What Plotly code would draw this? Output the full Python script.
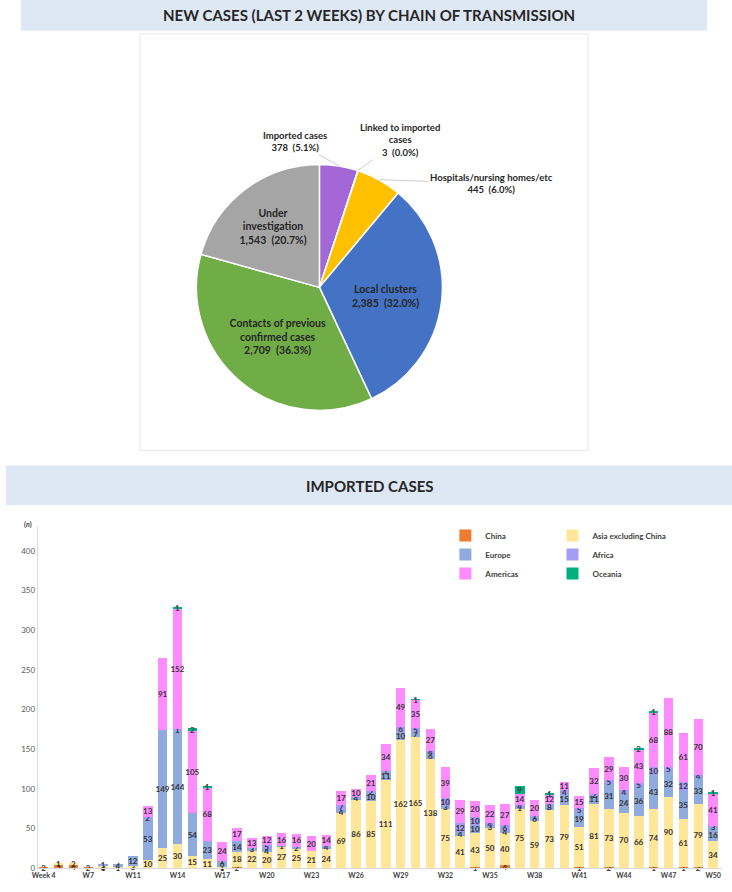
import math
import plotly.graph_objects as go

W, H = 732, 892
FONT = "Lato"
DARK = "#262626"
BAND = "#DEE8F4"

# ---- pie: new cases by chain of transmission ----
chain_labels = ["Imported cases", "Linked to imported cases", "Hospitals/nursing homes/etc",
                "Local clusters", "Contacts of previous confirmed cases", "Under investigation"]
chain_text_labels = ["Imported cases", "Linked to imported<br>cases", "Hospitals/nursing homes/etc",
                     "Local clusters", "Contacts of previous<br>confirmed cases", "Under<br>investigation"]
chain_values = [378, 3, 445, 2385, 2709, 1543]
chain_colors = ["#A367D6", "#7F7F7F", "#FFC000", "#4472C4", "#70AD47", "#A5A5A5"]

# ---- stacked bars: imported cases by region ----
weeks = ["Week 4", "W5", "W6", "W7", "W8", "W9", "W11", "W12", "W13", "W14", "W15", "W16",
         "W17", "W18", "W19", "W20", "W21", "W22", "W23", "W24", "W25", "W26", "W27", "W28",
         "W29", "W30", "W31", "W32", "W33", "W34", "W35", "W36", "W37", "W38", "W39", "W40",
         "W41", "W42", "W43", "W44", "W45", "W46", "W47", "W48", "W49", "W50"]
week_ticks = ["Week 4", "W7", "W11", "W14", "W17", "W20", "W23", "W26", "W29", "W32",
              "W35", "W38", "W41", "W44", "W47", "W50"]

china = [2, 5, 4, 2, 1, 0, 0, 0, 0, 0, 0, 0, 1, 2, 0, 0, 0, 0, 0, 0, 0, 0, 0, 0,
         0, 0, 0, 0, 0, 1, 0, 4, 0, 0, 0, 0, 1, 0, 2, 0, 0, 1, 0, 1, 2, 0]
asia = [0, 1, 2, 0, 2, 1, 3, 10, 25, 30, 15, 11, 1, 18, 22, 20, 27, 25, 21, 24, 69, 86, 85, 111,
        162, 165, 138, 75, 41, 43, 50, 40, 75, 59, 73, 79, 51, 81, 73, 70, 66, 74, 90, 61, 79, 34]
europe = [0, 0, 0, 0, 1, 4, 12, 53, 149, 144, 54, 23, 6, 14, 3, 4, 1, 2, 0, 4, 4, 4, 10, 11,
          10, 7, 6, 3, 4, 10, 3, 4, 1, 6, 8, 15, 19, 11, 31, 24, 36, 43, 32, 35, 33, 16]
africa = [0, 0, 0, 0, 0, 0, 0, 2, 0, 1, 0, 0, 1, 0, 0, 5, 0, 0, 0, 0, 7, 0, 2, 1,
          6, 5, 4, 10, 12, 10, 4, 6, 4, 1, 0, 4, 5, 2, 5, 4, 5, 10, 5, 12, 4, 3]
americas = [0, 0, 0, 0, 0, 0, 0, 13, 91, 152, 105, 68, 24, 17, 13, 12, 16, 16, 20, 14, 17, 10, 21, 34,
            49, 35, 27, 39, 29, 20, 22, 27, 14, 20, 12, 11, 15, 32, 29, 30, 43, 68, 88, 61, 70, 41]
oceania = [0, 0, 0, 0, 0, 0, 0, 0, 0, 1, 2, 1, 0, 0, 0, 0, 0, 0, 0, 0, 0, 0, 0, 0,
           0, 1, 0, 0, 0, 0, 0, 0, 9, 0, 1, 0, 0, 0, 0, 0, 2, 1, 0, 0, 0, 1]

regions = ["China", "Asia excluding China", "Europe", "Africa", "Americas", "Oceania"]
region_values = [china, asia, europe, africa, americas, oceania]
region_colors = ["#ED7D31", "#FFE699", "#8FAADC", "#A49CF5", "#FF8CFF", "#00B07F"]
# legend is laid out in two columns like the original
region_legend = ["legend", "legend2", "legend", "legend2", "legend", "legend2"]

fig = go.Figure()

# pie geometry (pixels from top-left), turned into a domain
pie_cx, pie_cy, pie_r = 316, 289, 124
pie_x = [(pie_cx - pie_r) / W, (pie_cx + pie_r) / W]
pie_y = [1 - (pie_cy + pie_r) / H, 1 - (pie_cy - pie_r) / H]

total = sum(chain_values)
inside = [i for i, v in enumerate(chain_values) if v / total > 0.1]
pie_text = []
for i, (lab, v) in enumerate(zip(chain_text_labels, chain_values)):
    s = f"{lab}<br>{v:,}\u00a0\u00a0({v / total * 100:.1f}%)"
    pie_text.append(s if i in inside else "")

fig.add_trace(go.Pie(
    labels=chain_labels, values=chain_values, text=pie_text, textinfo="text",
    textposition="inside", insidetextorientation="horizontal", sort=False,
    direction="clockwise", rotation=0,
    marker=dict(colors=chain_colors, line=dict(color="white", width=1.5)),
    textfont=dict(family=FONT, size=10.5, color=DARK, weight="bold"),
    domain=dict(x=pie_x, y=pie_y), showlegend=False, hoverinfo="label+value+percent",
))

# outside labels for the thin slices, arrow tip at mid angle of each slice
label_offsets = {0: (-44, -24), 1: (42, -30), 2: (112, 4)}
cum = 0
for i, v in enumerate(chain_values):
    if i in label_offsets:
        ang = 2 * math.pi * (cum + v / 2) / total
        tx = pie_cx + pie_r * math.sin(ang)
        ty = pie_cy - pie_r * math.cos(ang)
        ax, ay = label_offsets[i]
        fig.add_annotation(
            x=tx / W, y=1 - ty / H, xref="paper", yref="paper",
            ax=ax, ay=ay, showarrow=True, arrowhead=0, arrowwidth=0.8, arrowcolor="#BFBFBF",
            text=f"{chain_text_labels[i]}<br>{v:,}\u00a0\u00a0({v / total * 100:.1f}%)",
            font=dict(family=FONT, size=9.5, color=DARK, weight="bold"), align="center",
        )
    cum += v

for name, vals, col, lg in zip(regions, region_values, region_colors, region_legend):
    fig.add_trace(go.Bar(
        x=weeks, y=vals, name=name, legend=lg, marker=dict(color=col, line=dict(width=0)),
        text=[str(v) if v > 0 else "" for v in vals], textposition="inside",
        insidetextanchor="middle", textangle=0, constraintext="none",
        textfont=dict(family=FONT, size=8, color="#333333", weight="bold"),
        cliponaxis=False,
    ))

shapes = [
    dict(type="rect", xref="paper", yref="paper", x0=15 / W, x1=707 / W, y0=1 - 31 / H, y1=1,
         fillcolor=BAND, line=dict(width=0), layer="below"),
    dict(type="rect", xref="paper", yref="paper", x0=135 / W, x1=587 / W,
         y0=1 - 453 / H, y1=1 - 34 / H, fillcolor="white", line=dict(color="#E6E6E6", width=1),
         layer="below"),
    dict(type="rect", xref="paper", yref="paper", x0=0, x1=1, y0=1 - 508 / H, y1=1 - 468 / H,
         fillcolor=BAND, line=dict(width=0), layer="below"),
]

fig.add_annotation(x=0.5, y=1 - 15 / H, xref="paper", yref="paper", showarrow=False,
                   yanchor="middle", text="NEW CASES (LAST 2 WEEKS) BY CHAIN OF TRANSMISSION",
                   font=dict(family=FONT, size=15, color=DARK, weight="bold"))
fig.add_annotation(x=0.5, y=1 - 489 / H, xref="paper", yref="paper", showarrow=False,
                   yanchor="middle", text="IMPORTED CASES",
                   font=dict(family=FONT, size=15, color=DARK, weight="bold"))
fig.add_annotation(x=16 / W, y=1 - 527 / H, xref="paper", yref="paper", showarrow=False,
                   yanchor="middle", text="(<i>n</i>)",
                   font=dict(family=FONT, size=7, color="#404040", weight="bold"))

legend_style = dict(orientation="v", y=1 - 524 / H, xanchor="left", yanchor="top",
                    traceorder="normal", bgcolor="rgba(0,0,0,0)", tracegroupgap=0,
                    font=dict(family=FONT, size=8, color="#404040", weight="bold"))

fig.update_layout(
    width=W, height=H, margin=dict(l=0, r=0, t=0, b=0),
    paper_bgcolor="white", plot_bgcolor="white",
    barmode="stack", bargap=0.36, shapes=shapes,
    uniformtext=dict(minsize=8, mode="show"),
    xaxis=dict(domain=[32 / W, 722 / W], range=[-0.4, 45.6], type="category",
               tickmode="array", tickvals=week_ticks, ticktext=week_ticks,
               tickfont=dict(family=FONT, size=7, color="#404040", weight="bold"),
               showline=True, linecolor="#D9D9D9", ticks="", showgrid=False),
    yaxis=dict(domain=[1 - 873 / H, 1 - 530 / H], range=[0, 430], dtick=50,
               tickfont=dict(family=FONT, size=8, color="#595959"),
               showline=True, linecolor="#D9D9D9", ticks="", showgrid=False, zeroline=False),
    legend=dict(x=443 / W, **legend_style),
    legend2=dict(x=551 / W, **legend_style),
)

# drop the default 8px page margin so the figure sits at the window's corner
fig.write_html("out.html", config={"displayModeBar": False},
               post_script="document.body.style.margin='0px';")
